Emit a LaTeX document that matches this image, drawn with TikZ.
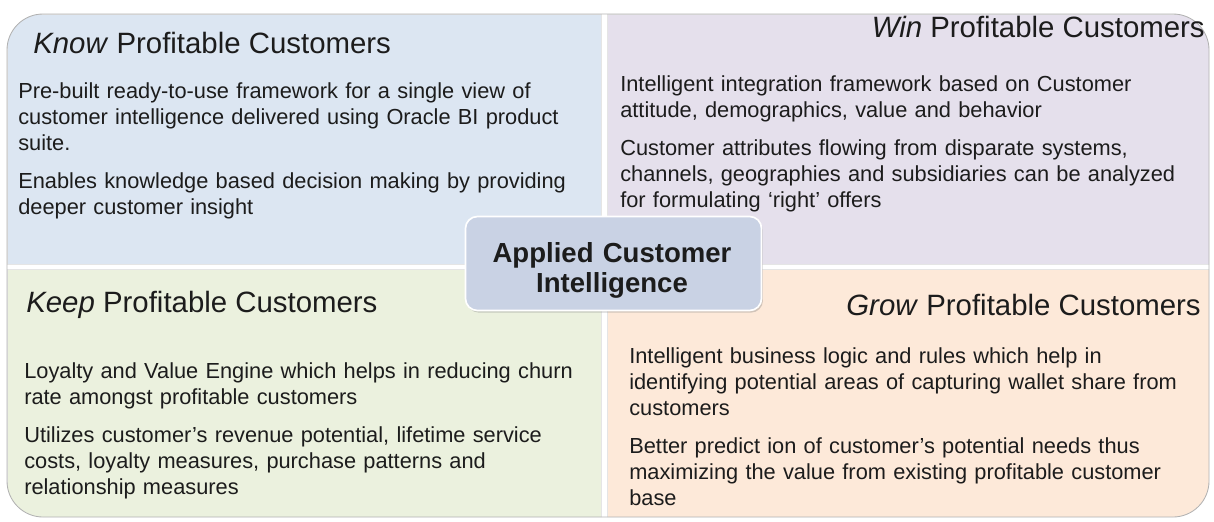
\documentclass[tikz,border=0pt]{standalone}
\usepackage{fontspec}
\setmainfont{Liberation Sans}
\usetikzlibrary{shadows}

\definecolor{knowblue}{HTML}{DCE6F2}
\definecolor{winlilac}{HTML}{E5E0EC}
\definecolor{keepgreen}{HTML}{EBF1DE}
\definecolor{growpeach}{HTML}{FDE9D9}
\definecolor{hubgray}{HTML}{C9D2E4}
\definecolor{inkgray}{HTML}{1C1C1C}

\newcommand{\titlesize}{\fontsize{20.9}{24}\selectfont}
\newcommand{\bodysize}{\fontsize{15.5}{18.5}\selectfont}
\newcommand{\parskipbody}{\\[9pt]}

\tikzset{
  panel/.style={draw=black!10, line width=0.5pt},
  paneltitle/.style={inner sep=0pt, font=\titlesize, text=inkgray},
  panelbody/.style={inner sep=0pt, anchor=base west, text width=14.8cm,
    align=left, font=\bodysize, text=inkgray},
  hubbox/.style={fill=hubgray, draw=white, line width=1.2pt,
    rounded corners=0.3cm, minimum width=7.4cm, minimum height=2.35cm,
    drop shadow={opacity=0.35, shadow xshift=1pt, shadow yshift=-1.5pt}},
  hubtext/.style={inner sep=0pt, anchor=base, text width=7cm, align=center,
    font=\fontsize{19.6}{22}\selectfont\bfseries, text=inkgray}
}

\begin{document}
\begin{tikzpicture}[x=0.025cm,y=-0.025cm]
\useasboundingbox (0,0) rectangle (1214,521);

% four quadrants inside one rounded outline
\begin{scope}
\clip[rounded corners=0.9cm] (7,14) rectangle (1209,517);
\fill[knowblue,panel] (7,14) rectangle (601,264);
\fill[winlilac,panel] (607,14) rectangle (1209,264);
\fill[keepgreen,panel] (7,269) rectangle (601,517);
\fill[growpeach,panel] (607,269) rectangle (1209,517);
\end{scope}
\draw[black!30, line width=0.6pt, rounded corners=0.9cm] (7,14) rectangle (1209,517);

% know
\node[paneltitle, anchor=base west] (knowtitle) at (33,53) {\textit{Know} Profitable Customers};
\node[panelbody] (knowbody) at (18,98) {Pre-built ready-to-use framework for a single view of\\
customer intelligence delivered using Oracle BI product\\
suite.\parskipbody
Enables knowledge based decision making by providing\\
deeper customer insight};

% win
\node[paneltitle, anchor=base east] (wintitle) at (1205,37) {\textit{Win} Profitable Customers};
\node[panelbody] (winbody) at (620,91) {Intelligent integration framework based on Customer\\
attitude, demographics, value and behavior\parskipbody
Customer attributes flowing from disparate systems,\\
channels, geographies and subsidiaries can be analyzed\\
for formulating ‘right’ offers};

% keep
\node[paneltitle, anchor=base west] (keeptitle) at (26,312) {\textit{Keep} Profitable Customers};
\node[panelbody] (keepbody) at (24,378) {Loyalty and Value Engine which helps in reducing churn\\
rate amongst profitable customers\parskipbody
Utilizes customer’s revenue potential, lifetime service\\
costs, loyalty measures, purchase patterns and\\
relationship measures};

% grow
\node[paneltitle, anchor=base east] (growtitle) at (1201,315) {\textit{Grow} Profitable Customers};
\node[panelbody] (growbody) at (629,363) {Intelligent business logic and rules which help in\\
identifying potential areas of capturing wallet share from\\
customers\parskipbody
Better predict ion of customer’s potential needs thus\\
maximizing the value from existing profitable customer\\
base};

% centre
\node[hubbox] (hub) at (613.5,263.5) {};
\node[hubtext] (hubname) at (612,262) {Applied Customer\\Intelligence};
\end{tikzpicture}
\end{document}
